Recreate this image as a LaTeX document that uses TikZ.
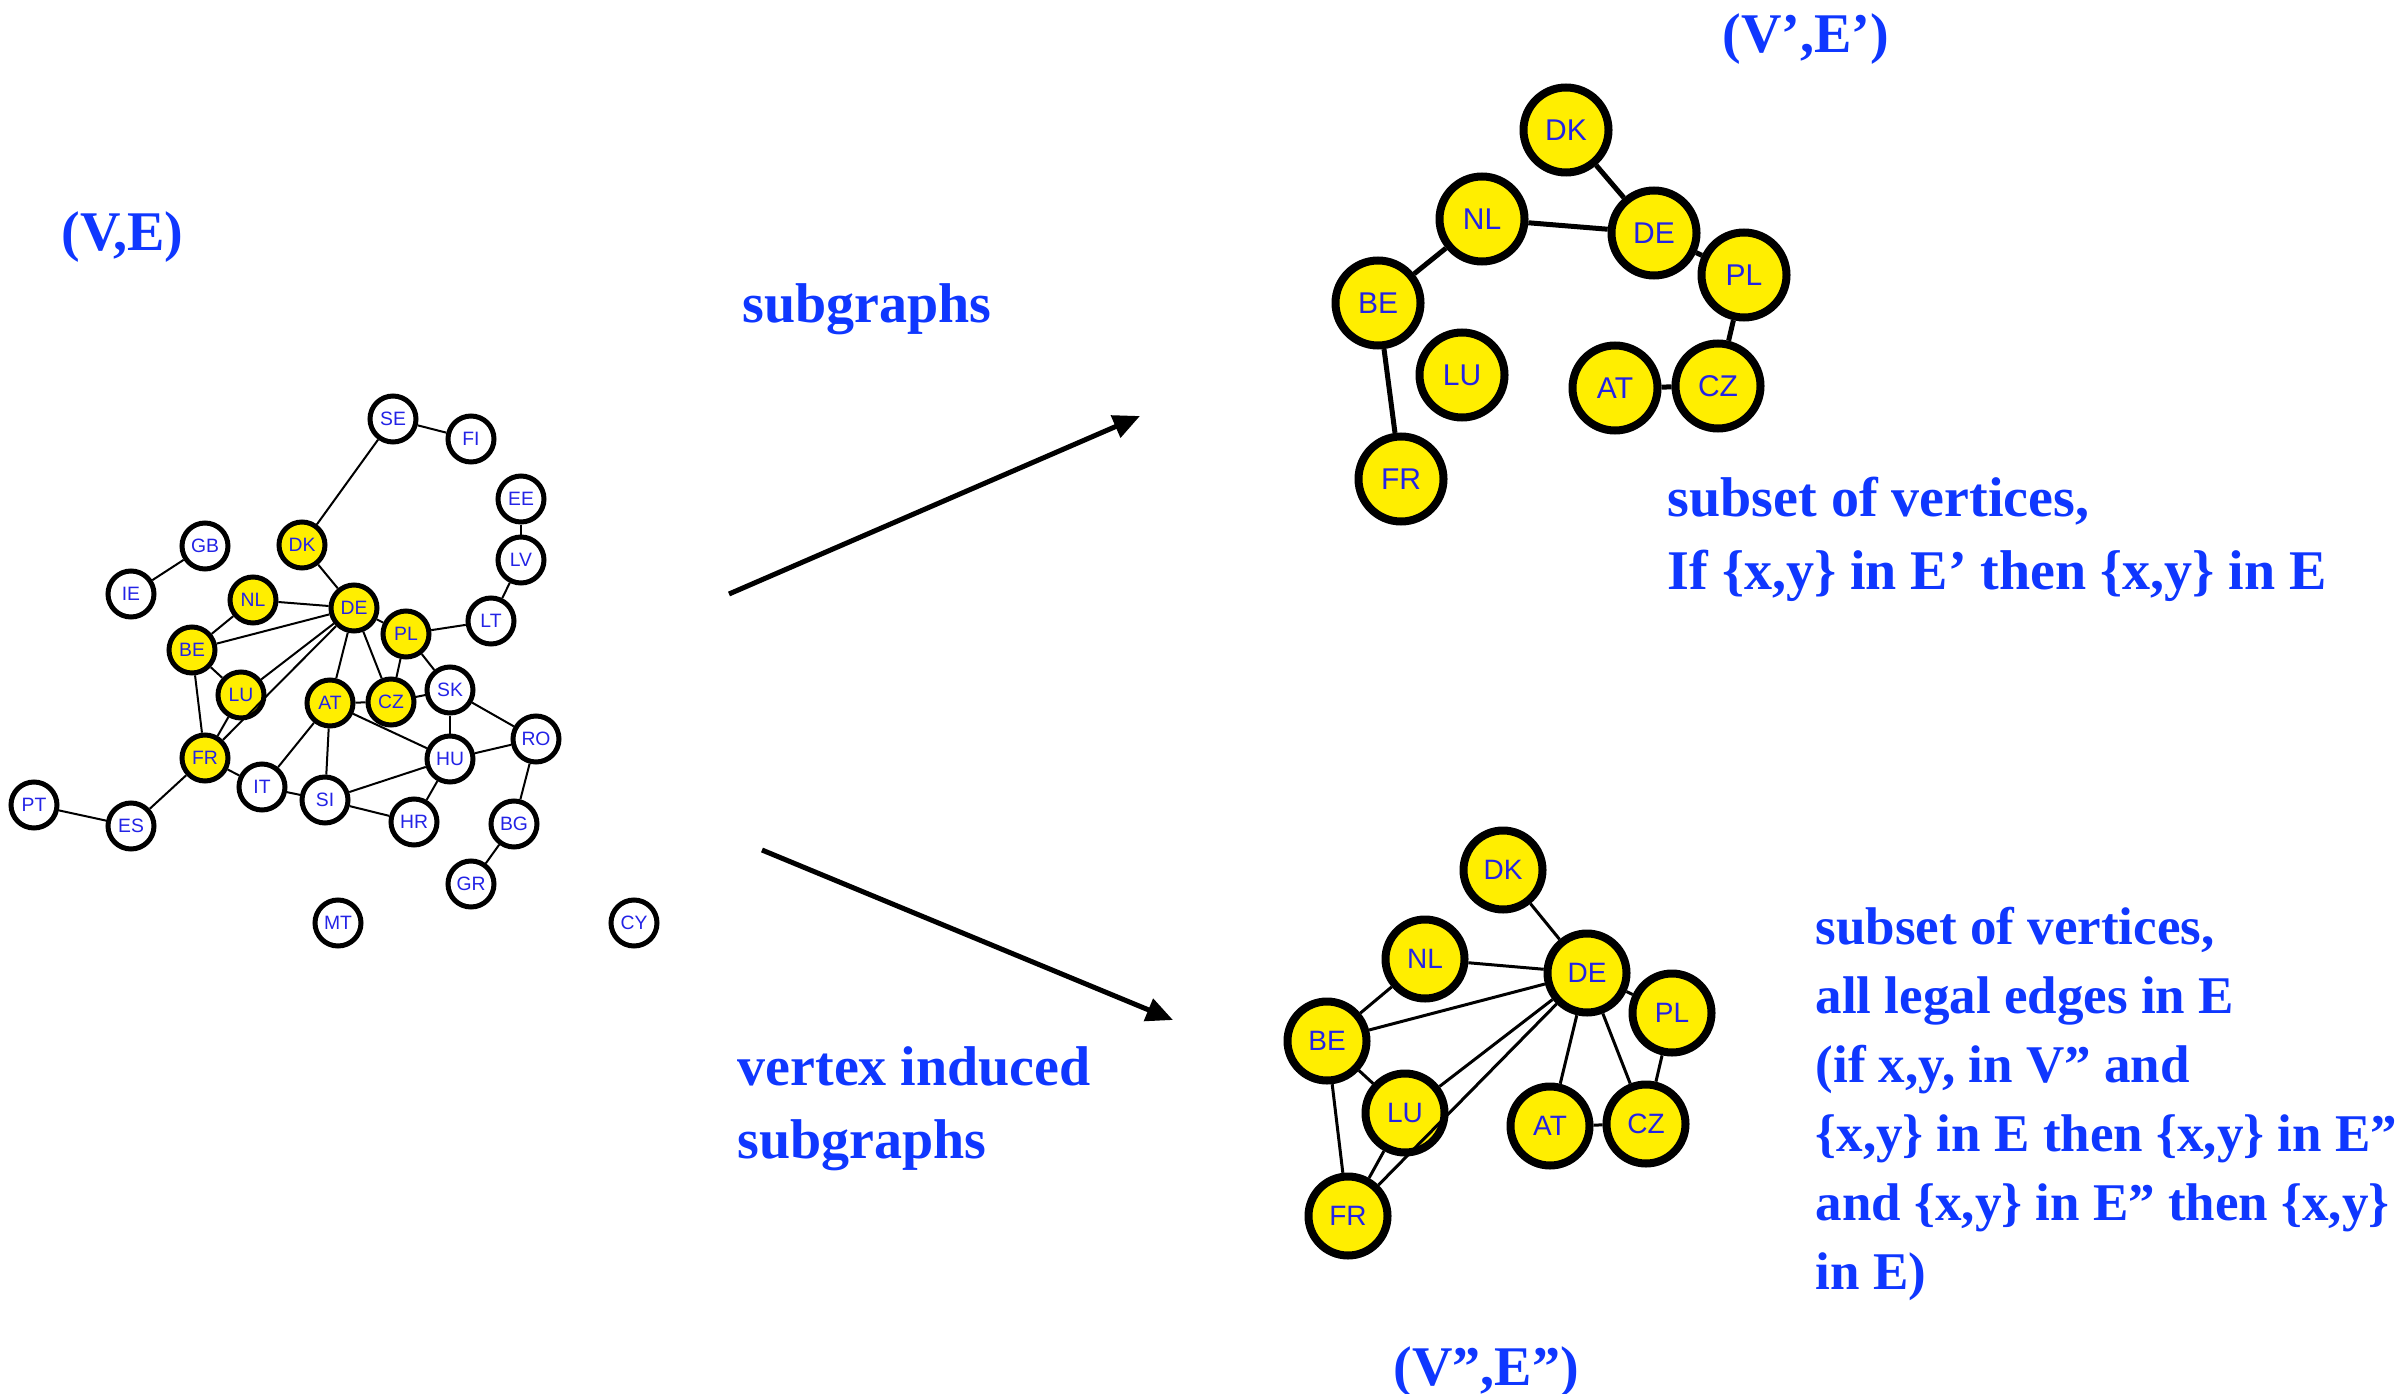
\documentclass[tikz,border=0pt]{standalone}
\usepackage{fontspec}
\setmainfont{Liberation Serif}
\newfontfamily\labfont{Liberation Sans}
\usetikzlibrary{arrows.meta}
\definecolor{txtblue}{RGB}{15,55,255}
\definecolor{labblue}{RGB}{35,35,230}
\definecolor{nodeyellow}{RGB}{255,238,0}
\begin{document}
\begin{tikzpicture}[x=0.3pt,y=-0.3pt,
 small/.style={circle,draw=black,line width=1.5pt,minimum size=13.8pt,inner sep=0pt,font=\labfont\fontsize{5.8}{6}\selectfont,text=labblue,fill=white},
 smallY/.style={small,fill=nodeyellow},
 big/.style={circle,draw=black,line width=2.4pt,minimum size=25.5pt,inner sep=0pt,font=\labfont\fontsize{9}{10}\selectfont,text=labblue,fill=nodeyellow},
 mid/.style={big,minimum size=23.7pt,font=\labfont\fontsize{8.4}{9}\selectfont},
 lbl/.style={font=\bfseries\fontsize{16.8}{20}\selectfont,text=txtblue,anchor=base west,inner sep=0pt},
 lblS/.style={lbl,font=\bfseries\fontsize{15.9}{19}\selectfont},
 eS/.style={line width=0.6pt},
 eT/.style={line width=1.5pt},
 eB/.style={line width=0.9pt},
 arr/.style={line width=1.5pt,-{Triangle[length=8pt,width=7pt]}}
]
\useasboundingbox[fill=white] (0,0) rectangle (2405,1394);

% ---------- left graph (V,E)
\node[small]  (LSE) at (393,419) {SE};
\node[small]  (LFI) at (471,439) {FI};
\node[small]  (LEE) at (521,499) {EE};
\node[small]  (LLV) at (521,560) {LV};
\node[small]  (LLT) at (491,621) {LT};
\node[small]  (LGB) at (205,546) {GB};
\node[small]  (LIE) at (131,594) {IE};
\node[smallY] (LDK) at (302,545) {DK};
\node[smallY] (LNL) at (253,600) {NL};
\node[smallY] (LDE) at (354,608) {DE};
\node[smallY] (LPL) at (406,634) {PL};
\node[smallY] (LBE) at (192,650) {BE};
\node[smallY] (LLU) at (241,695) {LU};
\node[smallY] (LAT) at (330,703) {AT};
\node[smallY] (LCZ) at (391,702) {CZ};
\node[small]  (LSK) at (450,690) {SK};
\node[small]  (LRO) at (536,739) {RO};
\node[small]  (LHU) at (450,759) {HU};
\node[smallY] (LFR) at (205,758) {FR};
\node[small]  (LIT) at (262,787) {IT};
\node[small]  (LSI) at (325,800) {SI};
\node[small]  (LHR) at (414,822) {HR};
\node[small]  (LBG) at (514,824) {BG};
\node[small]  (LGR) at (471,884) {GR};
\node[small]  (LPT) at (34,805) {PT};
\node[small]  (LES) at (131,826) {ES};
\node[small]  (LMT) at (338,923) {MT};
\node[small]  (LCY) at (634,923) {CY};

\foreach \a/\b in {SE/FI,SE/DK,EE/LV,LV/LT,LT/PL,GB/IE,DK/DE,NL/DE,NL/BE,BE/DE,BE/LU,BE/FR,LU/DE,LU/FR,FR/DE,DE/AT,DE/CZ,DE/PL,PL/CZ,PL/SK,AT/CZ,CZ/SK,AT/HU,AT/IT,AT/SI,SK/HU,SK/RO,HU/RO,HU/SI,HU/HR,SI/HR,SI/IT,IT/FR,FR/ES,ES/PT,RO/BG,BG/GR}
  \draw[eS] (L\a) -- (L\b);

% ---------- top right graph (V',E')
\node[big] (TDK) at (1566,130) {DK};
\node[big] (TNL) at (1482,219) {NL};
\node[big] (TDE) at (1654,233) {DE};
\node[big] (TPL) at (1744,275) {PL};
\node[big] (TBE) at (1378,303) {BE};
\node[big] (TLU) at (1462,375) {LU};
\node[big] (TAT) at (1615,388) {AT};
\node[big] (TCZ) at (1718,386) {CZ};
\node[big] (TFR) at (1401,479) {FR};
\foreach \a/\b in {DK/DE,NL/DE,NL/BE,BE/FR,DE/PL,PL/CZ,AT/CZ}
  \draw[eT] (T\a) -- (T\b);

% ---------- bottom graph (V'',E'')
\node[mid] (BDK) at (1503,870) {DK};
\node[mid] (BNL) at (1425,959) {NL};
\node[mid] (BDE) at (1587,973) {DE};
\node[mid] (BPL) at (1672,1013) {PL};
\node[mid] (BBE) at (1327,1041) {BE};
\node[mid] (BLU) at (1405,1113) {LU};
\node[mid] (BAT) at (1550,1126) {AT};
\node[mid] (BCZ) at (1646,1124) {CZ};
\node[mid] (BFR) at (1348,1216) {FR};
\foreach \a/\b in {DK/DE,NL/DE,NL/BE,BE/DE,BE/LU,BE/FR,LU/DE,LU/FR,FR/DE,DE/AT,DE/CZ,DE/PL,PL/CZ,AT/CZ}
  \draw[eB] (B\a) -- (B\b);

% ---------- arrows
\coordinate (a1s) at (729,594);
\coordinate (a1e) at (1140,416);
\coordinate (a2s) at (762,850);
\coordinate (a2e) at (1173,1020);
\draw[arr] (a1s) -- (a1e);
\draw[arr] (a2s) -- (a2e);

% ---------- texts
\node[lbl] (tVE) at (61,251) {(V,E)};
\node[lbl] (tVE1) at (1722,53) {(V’,E’)};
\node[lbl] (tVE2) at (1393,1385) {(V”,E”)};
\node[lbl] (tsub) at (742,323) {subgraphs};
\node[lbl] (tvi1) at (737,1085) {vertex induced};
\node[lbl] (tvi2) at (737,1158) {subgraphs};
\node[lbl] (ts1) at (1667,516) {subset of vertices,};
\node[lbl] (ts2) at (1667,589) {If \{x,y\} in E’ then \{x,y\} in E};
\node[lblS] (tb1) at (1815,944) {subset of vertices,};
\node[lblS] (tb2) at (1815,1013) {all legal edges in E};
\node[lblS] (tb3) at (1815,1082) {(if x,y, in V” and};
\node[lblS] (tb4) at (1815,1151) {\{x,y\} in E then \{x,y\} in E”};
\node[lblS] (tb5) at (1815,1220) {and \{x,y\} in E” then \{x,y\}};
\node[lblS] (tb6) at (1815,1289) {in E)};
\end{tikzpicture}
\end{document}
